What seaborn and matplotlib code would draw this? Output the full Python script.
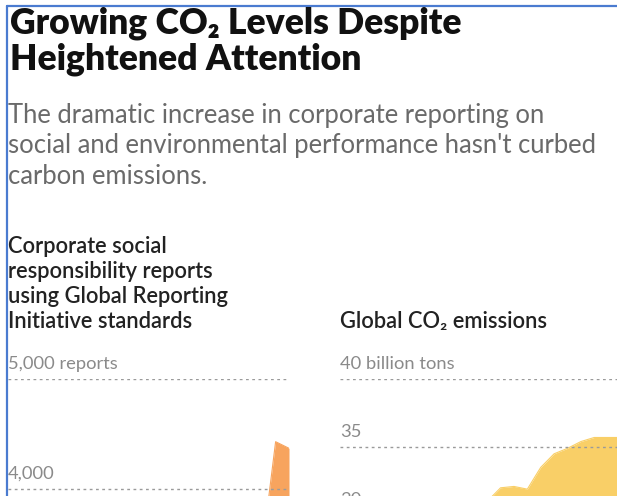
import numpy as np
import pandas as pd
import matplotlib
matplotlib.use("Agg")
import matplotlib.pyplot as plt
import matplotlib.transforms as mtransforms
from matplotlib.lines import Line2D
import seaborn as sns

# data (only the top of each area is visible)
report_years = [1999, 2000, 2001, 2002, 2003, 2004, 2005, 2006, 2007, 2008,
                2009, 2010, 2011, 2012, 2013, 2014, 2015, 2016]
reports = [10, 44, 120, 150, 270, 380, 520, 750, 830, 1100,
           1400, 1800, 2300, 2700, 3000, 3450, 4430, 4370]

co2_years = [1995, 1996, 1997, 1998, 1999, 2000, 2001, 2002, 2003, 2004, 2005,
             2006, 2007, 2008, 2009, 2010, 2011, 2012, 2013, 2014, 2015, 2016]
co2 = [23.5, 24.0, 24.3, 24.4, 24.8, 25.5, 25.7, 26.2, 27.6, 28.8, 30.0,
       31.0, 32.0, 32.1, 31.9, 33.5, 34.5, 34.9, 35.4, 35.7, 35.7, 35.7]

report_ticks = [4000, 5000]
report_labels = ["4,000", "5,000 reports"]
co2_ticks = [30, 35, 40]
co2_labels = ["30", "35", "40 billion tons"]

headline = ["Growing CO\u2082 Levels Despite", "Heightened Attention"]
subtitle = ["The dramatic increase in corporate reporting on",
            "social and environmental performance hasn't curbed",
            "carbon emissions."]
left_title = ["Corporate social", "responsibility reports",
              "using Global Reporting", "Initiative standards"]
right_title = "Global CO\u2082 emissions"

W, H = 617, 496
sns.set_theme(style="white")
plt.rcParams['font.family'] = ['Lato', 'DejaVu Sans']

fig = plt.figure(figsize=(W / 100, H / 100), dpi=100)
fig.patch.set_facecolor("white")
renderer = fig.canvas.get_renderer()


def fx(px):
    return px / W


def fy(py):
    return 1 - py / H


def fit_size(s, width, size=12, **kw):
    # font size at which a string is as wide as in the picture
    t = fig.text(0, 0, s, fontsize=size, **kw)
    w = t.get_window_extent(renderer).width
    t.remove()
    return size * width / w


# blue frame on the left and top (screenshot edge)
fig.add_artist(Line2D([fx(7), 1], [fy(6), fy(6)], color="#4a7bd0", lw=1.6))
fig.add_artist(Line2D([fx(7), fx(7)], [fy(6), 0], color="#4a7bd0", lw=1.6))

# headline and subtitle
hs = fit_size(headline[0], 450, fontweight="heavy")
for i, line in enumerate(headline):
    fig.text(fx(10), fy(33 + 36 * i), line, fontsize=hs, fontweight="heavy",
             color="#111111", va="baseline")
ss = fit_size(subtitle[1], 587)
for i, line in enumerate(subtitle):
    fig.text(fx(8), fy(122.5 + 31 * i), line, fontsize=ss, color="#6a6a6a", va="baseline")

# panel titles
ts = fit_size(left_title[2], 220, fontweight="semibold")
for i, line in enumerate(left_title):
    fig.text(fx(8), fy(253 + 25 * i), line, fontsize=ts, fontweight="semibold",
             color="#222222", va="baseline")
fig.text(fx(340), fy(328), right_title, fontsize=ts, fontweight="semibold",
         color="#222222", va="baseline")

# axes run past the bottom of the picture (it is cropped)
ax1 = fig.add_axes([fx(8), fy(929), fx(281), 550 / H])
ax2 = fig.add_axes([fx(340), fy(923), fx(281), 544 / H])

df_r = pd.DataFrame({"year": report_years, "reports": reports})
df_c = pd.DataFrame({"year": co2_years, "co2": co2})

orange = "#f7a45e"
yellow = "#f9cf67"

ax1.fill_between(df_r["year"], df_r["reports"], color=orange, lw=0, zorder=2)
sns.lineplot(data=df_r, x="year", y="reports", ax=ax1, color=orange, lw=0.8, zorder=2)
ax1.set_xlim(1995, 2016)
ax1.set_ylim(0, 5000)

ax2.fill_between(df_c["year"], df_c["co2"], color=yellow, lw=0, zorder=2)
sns.lineplot(data=df_c, x="year", y="co2", ax=ax2, color=yellow, lw=0.8, zorder=2)
ax2.set_xlim(1995, 2016)
ax2.set_ylim(0, 40)

ls = fit_size("5,000 reports", 109)
for ax, ticks, labels in [(ax1, report_ticks, report_labels), (ax2, co2_ticks, co2_labels)]:
    ax.set_xlabel("")
    ax.set_ylabel("")
    ax.set_xticks([])
    ax.set_yticks(ticks)
    ax.set_yticklabels([])
    ax.tick_params(left=False, bottom=False)
    ax.grid(axis="y", color="#9a9a9a", lw=1.0, linestyle=(0, (2, 2.5)), zorder=3)
    ax.set_axisbelow(False)
    for s in ax.spines.values():
        s.set_visible(False)
    ax.patch.set_alpha(0)
    trans = mtransforms.offset_copy(ax.get_yaxis_transform(), fig=fig, x=0, y=10, units="dots")
    for t, lab in zip(ticks, labels):
        ax.text(0, t, lab, transform=trans, fontsize=ls, color="#8a8a8a",
                ha="left", va="baseline")

fig.savefig("out.png", dpi=100)
